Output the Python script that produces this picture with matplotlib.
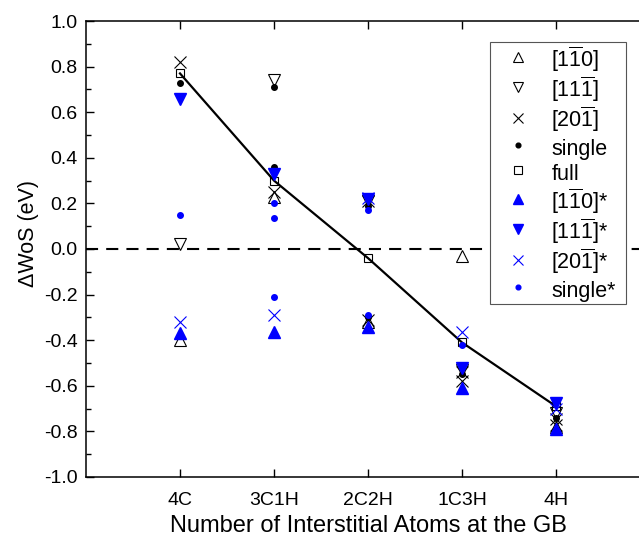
import matplotlib
matplotlib.use("Agg")
import matplotlib.pyplot as plt
from matplotlib.ticker import MultipleLocator

plt.rcParams['font.family'] = ['Liberation Sans', 'DejaVu Sans']
plt.rcParams['mathtext.fontset'] = 'custom'
plt.rcParams['mathtext.rm'] = 'Liberation Sans'
plt.rcParams['mathtext.it'] = 'Liberation Sans'

# categorias del eje x
categories = ["4C", "3C1H", "2C2H", "1C3H", "4H"]
cat_pos = [1, 2, 3, 4, 5]

# series negras (abiertas)
tri_up_x = [1, 2, 3, 4, 5]
tri_up_y = [-0.40, 0.23, -0.32, -0.03, -0.78]
tri_down_x = [1, 2, 3, 4, 5]
tri_down_y = [0.02, 0.74, 0.21, -0.53, -0.72]
cross_x = [1, 2, 3, 3, 4, 4, 5, 5]
cross_y = [0.82, 0.25, 0.21, -0.31, -0.54, -0.58, -0.745, -0.77]
single_x = [1, 2, 2, 3, 3, 4, 5]
single_y = [0.73, 0.71, 0.36, 0.19, -0.30, -0.55, -0.74]
full_y = [0.77, 0.30, -0.04, -0.41, -0.69]

# series azules (*)
tri_up_b_x = [1, 2, 3, 4, 5]
tri_up_b_y = [-0.37, -0.365, -0.34, -0.61, -0.79]
tri_down_b_x = [1, 2, 3, 4, 5]
tri_down_b_y = [0.66, 0.33, 0.22, -0.52, -0.675]
cross_b_x = [1, 2, 3, 4, 5]
cross_b_y = [-0.32, -0.29, 0.225, -0.365, -0.70]
single_b_x = [1, 2, 2, 2, 3, 3, 4]
single_b_y = [0.15, 0.20, 0.135, -0.21, 0.17, -0.29, -0.42]

labels = [r"[1$\overline{1}$0]", r"[11$\overline{1}$]", r"[20$\overline{1}$]",
          "single", "full",
          r"[1$\overline{1}$0]*", r"[11$\overline{1}$]*", r"[20$\overline{1}$]*",
          "single*"]

fig = plt.figure(figsize=(6.39, 5.4), dpi=100)
ax = fig.add_axes([0.1346, 0.1167, 0.8826, 0.8444])

ax.axhline(0, color='black', lw=1.5, linestyle=(0, (5.8, 3.9)), zorder=1)
ax.plot(cat_pos, full_y, color='black', lw=1.6, zorder=2)

blue = '#0000ff'
ax.plot(tri_up_x, tri_up_y, '^', ms=8, mfc='none', mec='black', mew=0.8, label=labels[0])
ax.plot(tri_down_x, tri_down_y, 'v', ms=8, mfc='none', mec='black', mew=0.8, label=labels[1])
ax.plot(cross_x, cross_y, 'x', ms=8, color='black', mew=0.8, label=labels[2])
ax.plot(single_x, single_y, 'o', ms=4, color='black', label=labels[3])
ax.plot(cat_pos, full_y, 's', ms=6, mfc='none', mec='black', mew=0.8, label=labels[4])
ax.plot(tri_up_b_x, tri_up_b_y, '^', ms=8, color=blue, label=labels[5])
ax.plot(tri_down_b_x, tri_down_b_y, 'v', ms=8, color=blue, label=labels[6])
ax.plot(cross_b_x, cross_b_y, 'x', ms=8, color=blue, mew=0.8, label=labels[7])
ax.plot(single_b_x, single_b_y, 'o', ms=4, color=blue, label=labels[8])

ax.set_xlim(0, 6)
ax.set_ylim(-1.0, 1.0)
ax.set_xticks(cat_pos)
ax.set_xticklabels(categories)
ax.yaxis.set_major_locator(MultipleLocator(0.2))
ax.yaxis.set_minor_locator(MultipleLocator(0.1))
ax.set_yticklabels([f"{v:.1f}" for v in ax.get_yticks()])
ax.tick_params(axis='both', which='major', direction='in', length=6, width=1,
               labelsize=14, top=True, right=True)
ax.tick_params(axis='y', which='minor', direction='in', length=3.5, width=1, right=True)
ax.tick_params(axis='x', pad=11)
ax.tick_params(axis='y', pad=6)
for sp in ax.spines.values():
    sp.set_linewidth(1.1)

ax.set_xlabel("Number of Interstitial Atoms at the GB", fontsize=17)
ax.set_ylabel("ΔWoS (eV)", fontsize=15.5)
ax.xaxis.set_label_coords(0.5, -0.083)
ax.yaxis.set_label_coords(-0.083, 0.533)

leg = ax.legend(loc='upper left', bbox_to_anchor=(0.767, 0.433, 0.213, 0.489),
                bbox_transform=fig.transFigure, mode='expand', fontsize=15.5,
                fancybox=False, framealpha=1, edgecolor='#555555',
                borderaxespad=0, borderpad=0.1, labelspacing=0.05, handleheight=1.35,
                handletextpad=0.35, handlelength=2.4, markerscale=0.85)
leg.get_frame().set_linewidth(0.8)

plt.savefig("out.png", dpi=100)
